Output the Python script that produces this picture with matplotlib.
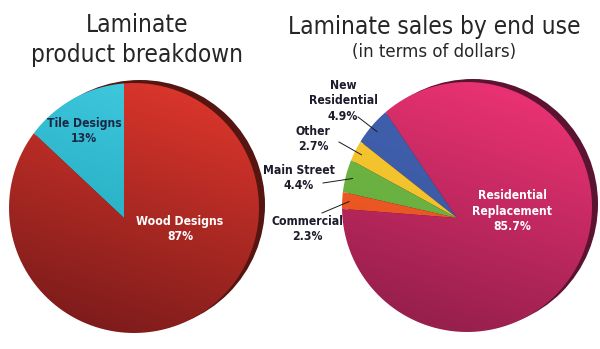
import numpy as np
import matplotlib.pyplot as plt
from matplotlib.patches import Polygon, Circle

plt.rcParams['font.family'] = ['DejaVu Sans']
plt.rcParams['font.stretch'] = 'condensed'

# Laminate product breakdown
product_labels = ['Tile Designs', 'Wood Designs']
product_share = [13, 87]

# Laminate sales by end use
use_labels = ['New\nResidential', 'Other', 'Main Street', 'Commercial',
              'Residential\nReplacement']
use_share = [4.9, 2.7, 4.4, 2.3, 85.7]


def hex2rgb(h):
    h = h.lstrip('#')
    return np.array([int(h[i:i + 2], 16) for i in (0, 2, 4)]) / 255.0


def rim_point(apex, center, R, ang):
    # where a ray from the apex meets the pie outline (y axis points down)
    d = np.array([np.cos(np.radians(ang)), -np.sin(np.radians(ang))])
    off = np.array(apex) - np.array(center)
    b = d @ off
    c = off @ off - R ** 2
    t = -b + np.sqrt(b * b - c)
    return np.array(apex) + t * d, t


def draw_pie(ax, values, start, apex, center, R, lights, darks, rim):
    cx, cy = center
    ax.add_patch(Circle((cx + 6, cy - 3), R, color=rim, zorder=1, lw=0))
    edges = start + 360 * np.cumsum([0] + list(values)) / sum(values)

    n = 200
    X, Y = np.meshgrid(np.linspace(cx - R, cx + R, n), np.linspace(cy - R, cy + R, n))
    s = (((X - cx) * -0.3 + (Y - cy) * 0.95) / R + 1) / 2
    s = np.clip(s, 0, 1)[..., None]

    for i in range(len(values)):
        pts = [apex] + [rim_point(apex, center, R, a)[0]
                        for a in np.linspace(edges[i], edges[i + 1], 120)]
        poly = Polygon(pts, closed=True, facecolor='none', edgecolor='none')
        ax.add_patch(poly)
        img = hex2rgb(lights[i]) * (1 - s) + hex2rgb(darks[i]) * s
        im = ax.imshow(img, extent=(cx - R, cx + R, cy + R, cy - R), origin='upper',
                       aspect='auto', interpolation='bilinear', zorder=2)
        im.set_clip_path(poly)
    return edges


fig = plt.figure(figsize=(6, 3.49), dpi=100)
ax = fig.add_axes([0, 0, 1, 1])

# left pie
draw_pie(ax, product_share, 90, (124, 218), (134, 208), 125,
         ['#3fc8de', '#d9352b'], ['#1aa3b6', '#7e1c1b'], '#551510')

# right pie
apex_r = (457, 218)
edges_r = draw_pie(ax, use_share, 124, apex_r, (467, 207), 125,
                   ['#4262b0', '#f7c935', '#74ba47', '#f35f28', '#ea3272'],
                   ['#3756a0', '#efbd25', '#64aa3c', '#e5521f', '#961f4c'],
                   '#5b1332')

title_kw = dict(ha='center', va='baseline', fontsize=17.5, color='#262626')
ax.text(137, 32, 'Laminate', **title_kw)
ax.text(137, 62, 'product breakdown', **title_kw)
ax.text(434, 34, 'Laminate sales by end use', **title_kw)
ax.text(434, 57, '(in terms of dollars)', ha='center', va='baseline',
        fontsize=13.3, color='#262626')

lab_kw = dict(ha='center', va='center', fontsize=8.7, fontweight='bold',
              linespacing=1.28, zorder=5)
ax.text(84, 131, f'{product_labels[0]}\n{product_share[0]}%', color='#1c2744', **lab_kw)
ax.text(180, 229, f'{product_labels[1]}\n{product_share[1]}%', color='white', **lab_kw)
ax.text(512, 211, f'{use_labels[4]}\n{use_share[4]}%', color='white', **lab_kw)

# outside labels with leader lines
label_pos = [(343, 101), (313, 139), (299, 178), (307, 229)]
line_start = [(358, 117), (339, 142), (323, 183), (322, 213)]
for i in range(4):
    ax.text(*label_pos[i], f'{use_labels[i]}\n{use_share[i]}%', color='#1c1c2c', **lab_kw)
    mid = (edges_r[i] + edges_r[i + 1]) / 2
    p, t = rim_point(apex_r, (467, 207), 125, mid)
    tip = np.array(apex_r) + 0.94 * (p - np.array(apex_r))
    ax.plot([line_start[i][0], tip[0]], [line_start[i][1], tip[1]],
            color='#1a1a1a', lw=0.7, zorder=6)

ax.set_xlim(0, 600)
ax.set_ylim(349, 0)
ax.axis('off')
fig.savefig('out.png', dpi=100)
